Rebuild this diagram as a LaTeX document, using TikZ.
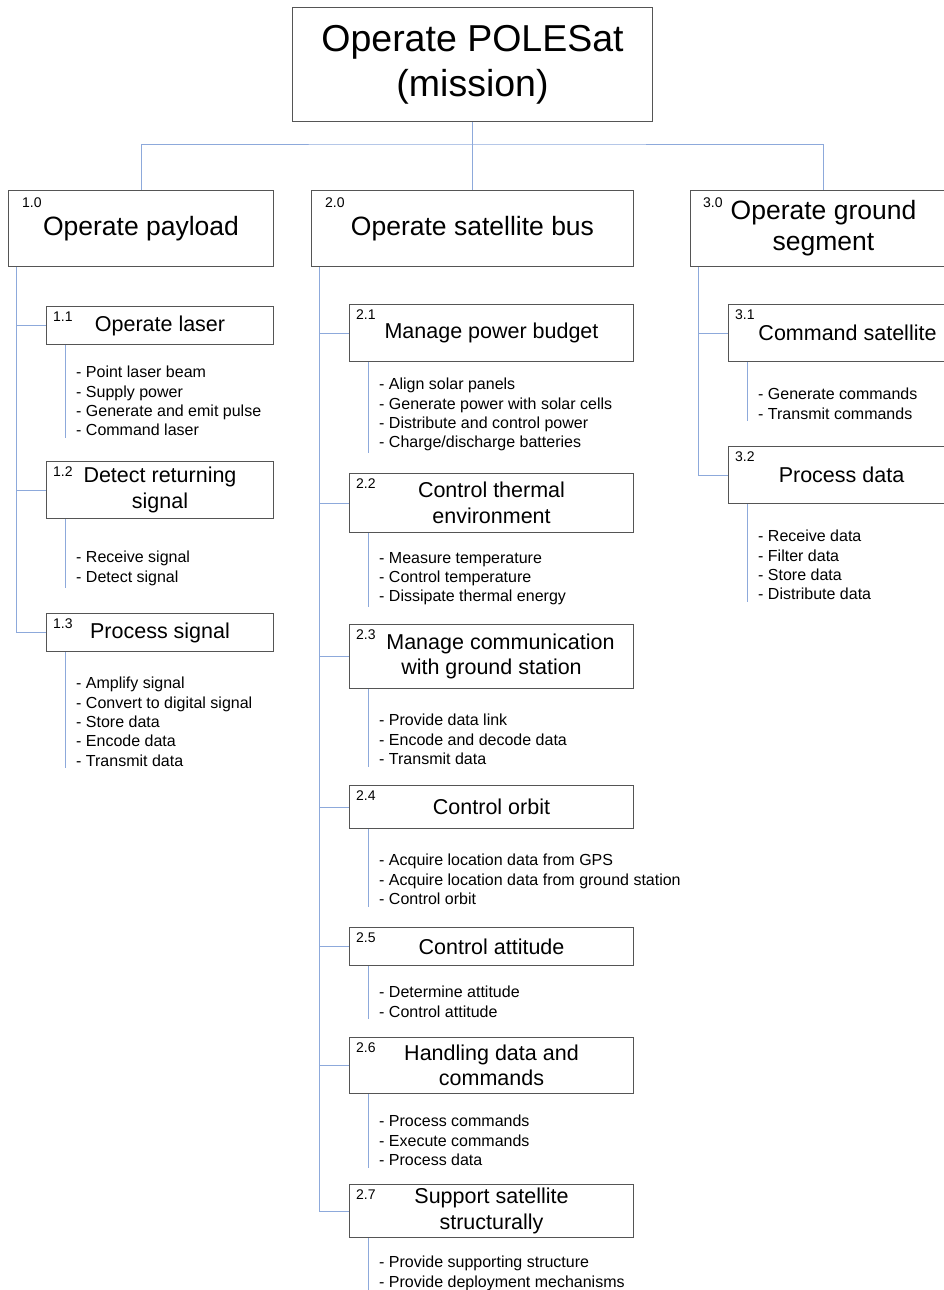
\documentclass[tikz,border=0pt]{standalone}
\usepackage{fontspec}
\setmainfont{Liberation Sans}
\usepackage{tikz}
\usetikzlibrary{positioning}
\definecolor{linkblue}{RGB}{141,169,219}
\definecolor{boxgray}{RGB}{85,85,85}
\tikzset
{
    rootbox/.style = {rectangle, draw=boxgray, line width=1pt, align=center, anchor=north west, font=\fontsize{37.5}{45}\selectfont},
    lvlone/.style  = {rectangle, draw=boxgray, line width=1pt, align=center, anchor=north west, font=\fontsize{26.5}{31}\selectfont},
    lvltwo/.style  = {rectangle, draw=boxgray, line width=1pt, align=center, anchor=north west, font=\fontsize{21.5}{25.5}\selectfont},
    num/.style     = {inner sep=0pt, anchor=north west, font=\fontsize{14}{16}\selectfont},
    acts/.style    = {inner xsep=0pt, inner ysep=2pt, anchor=north west, align=left, font=\fontsize{16}{19.3}\selectfont},
    link/.style    = {draw=linkblue, line width=1pt}
}

\begin{document}
\begin{tikzpicture}[x=1pt, y=-1pt]
	\useasboundingbox (0,0) rectangle (944,1290);
	\clip (0,0) rectangle (944,1290);

	\node (root) [rootbox, minimum width=360pt, minimum height=114pt] at (292,7) {Operate POLESat\\(mission)};

	\node (p10) [lvlone, minimum width=265pt, minimum height=76pt] at (8,190) {Operate payload};
	\node (p20) [lvlone, minimum width=322pt, minimum height=76pt] at (311,190) {Operate satellite bus};
	\node (p30) [lvlone, minimum width=266pt, minimum height=76pt] at (690,190) {Operate ground\\segment};

	\node (p11) [lvltwo, minimum width=227pt, minimum height=38pt] at (46,306) {Operate laser};
	\node (p12) [lvltwo, minimum width=227pt, minimum height=57pt] at (46,461) {Detect returning\\signal};
	\node (p13) [lvltwo, minimum width=227pt, minimum height=38pt] at (46,613) {Process signal};

	\node (p21) [lvltwo, minimum width=284pt, minimum height=57pt] at (349,304) {Manage power budget};
	\node (p22) [lvltwo, minimum width=284pt, minimum height=59pt] at (349,473) {Control thermal\\environment};
	\node (p23) [lvltwo, minimum width=284pt, minimum height=64pt] at (349,624) {\hspace*{18pt}Manage communication\\with ground station};
	\node (p24) [lvltwo, minimum width=284pt, minimum height=43pt] at (349,785) {Control orbit};
	\node (p25) [lvltwo, minimum width=284pt, minimum height=38pt] at (349,927) {Control attitude};
	\node (p26) [lvltwo, minimum width=284pt, minimum height=56pt] at (349,1037) {Handling data and\\commands};
	\node (p27) [lvltwo, minimum width=284pt, minimum height=53pt] at (349,1184) {Support satellite\\structurally};

	\node (p31) [lvltwo, minimum width=238pt, minimum height=57pt] at (728,304) {Command satellite};
	\node (p32) [lvltwo, minimum width=226pt, minimum height=57pt] at (728,446) {Process data};

	% numbers
	\node (n10) [num] at ([shift={(14pt,-8pt)}]p10.north west) {1.0};
	\node (n20) [num] at ([shift={(14pt,-8pt)}]p20.north west) {2.0};
	\node (n30) [num] at ([shift={(13pt,-8pt)}]p30.north west) {3.0};
	\foreach \b/\t in {11/1.1,12/1.2,13/1.3,21/2.1,22/2.2,23/2.3,24/2.4,25/2.5,26/2.6,27/2.7,31/3.1,32/3.2}
		\node (n\b) [num] at ([shift={(7pt,-6pt)}]p\b.north west) {\t};

	% activities
	\node (a11) [acts] at (76,364) {- Point laser beam\\- Supply power\\- Generate and emit pulse\\- Command laser};
	\node (a12) [acts] at (76,549) {- Receive signal\\- Detect signal};
	\node (a13) [acts] at (76,675) {- Amplify signal\\- Convert to digital signal\\- Store data\\- Encode data\\- Transmit data};
	\node (a21) [acts] at (379,376) {- Align solar panels\\- Generate power with solar cells\\- Distribute and control power\\- Charge/discharge batteries};
	\node (a22) [acts] at (379,550) {- Measure temperature\\- Control temperature\\- Dissipate thermal energy};
	\node (a23) [acts] at (379,712) {- Provide data link\\- Encode and decode data\\- Transmit data};
	\node (a24) [acts] at (379,852) {- Acquire location data from GPS\\- Acquire location data from ground station\\- Control orbit};
	\node (a25) [acts] at (379,984) {- Determine attitude\\- Control attitude};
	\node (a26) [acts] at (379,1113) {- Process commands\\- Execute commands\\- Process data};
	\node (a27) [acts] at (379,1254) {- Provide supporting structure\\- Provide deployment mechanisms};
	\node (a31) [acts] at (758,386) {- Generate commands\\- Transmit commands};
	\node (a32) [acts] at (758,528) {- Receive data\\- Filter data\\- Store data\\- Distribute data};

	% connectors
	\coordinate (hub) at ([yshift=-22pt]root.south);
	\draw [link] (root.south) -- (p20.north);
	\draw [link] (p10.north) |- (hub) -| (p30.north);

	\coordinate (t1) at ([xshift=8pt]p10.south west);
	\coordinate (t2) at ([xshift=8pt]p20.south west);
	\coordinate (t3) at ([xshift=8pt]p30.south west);
	\foreach \b in {1,2,3} \draw [link] (t1) |- (p1\b.west);
	\foreach \b in {1,...,7} \draw [link] (t2) |- (p2\b.west);
	\foreach \b in {1,2} \draw [link] (t3) |- (p3\b.west);

	\foreach \b in {11,12,13,21,22,23,24,25,26,27,31,32}
		\draw [link] ([xshift=19.5pt]p\b.south west) -- ([xshift=19.5pt]p\b.south west |- a\b.south);

\end{tikzpicture}
\end{document}
